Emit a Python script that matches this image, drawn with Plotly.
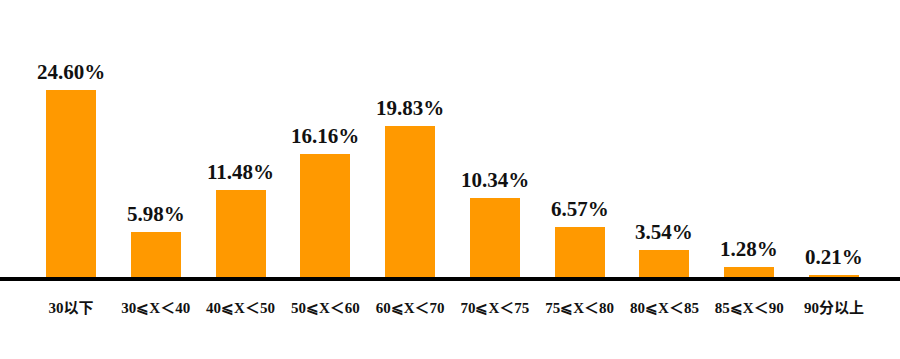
import plotly.graph_objects as go

categories = ["30以下", "30≤X<40", "40≤X<50", "50≤X<60", "60≤X<70",
              "70≤X<75", "75≤X<80", "80≤X<85", "85≤X<90", "90分以上"]
tick_labels = ["30以下", "30⩽X＜40", "40⩽X＜50", "50⩽X＜60", "60⩽X＜70",
               "70⩽X＜75", "75⩽X＜80", "80⩽X＜85", "85⩽X＜90", "90分以上"]
values = [24.60, 5.98, 11.48, 16.16, 19.83, 10.34, 6.57, 3.54, 1.28, 0.21]
labels = [f"<b>{v:.2f}%</b>" for v in values]

font_fam = "Liberation Serif, DejaVu Serif, Noto Sans CJK SC, serif"
xs = list(range(len(categories)))

fig = go.Figure(go.Bar(
    x=xs,
    y=values,
    width=0.59,
    marker=dict(color="#FF9900", line=dict(width=0)),
    cliponaxis=False,
))

for x, v, t in zip(xs, values, labels):
    fig.add_annotation(x=x, y=v, text=t, showarrow=False,
                       yanchor="bottom", yshift=4,
                       font=dict(family=font_fam, size=21, color="#111111"))

fig.update_layout(
    width=900, height=359,
    margin=dict(l=0, r=0, t=20, b=82),
    paper_bgcolor="white", plot_bgcolor="white",
    showlegend=False,
    bargap=0,
    xaxis=dict(
        range=[-0.837, 9.778],
        tickmode="array",
        tickvals=xs,
        ticktext=[f"<b>{t}</b>" for t in tick_labels],
        tickfont=dict(family=font_fam, size=15, color="#111111"),
        showline=True, linecolor="#000000", linewidth=4,
        ticks="", ticklabelstandoff=14,
        showgrid=False, zeroline=False,
    ),
    yaxis=dict(
        range=[0, 33.8],
        visible=False, showgrid=False, zeroline=False,
    ),
    font=dict(family=font_fam),
)

fig.write_html("out.html")
